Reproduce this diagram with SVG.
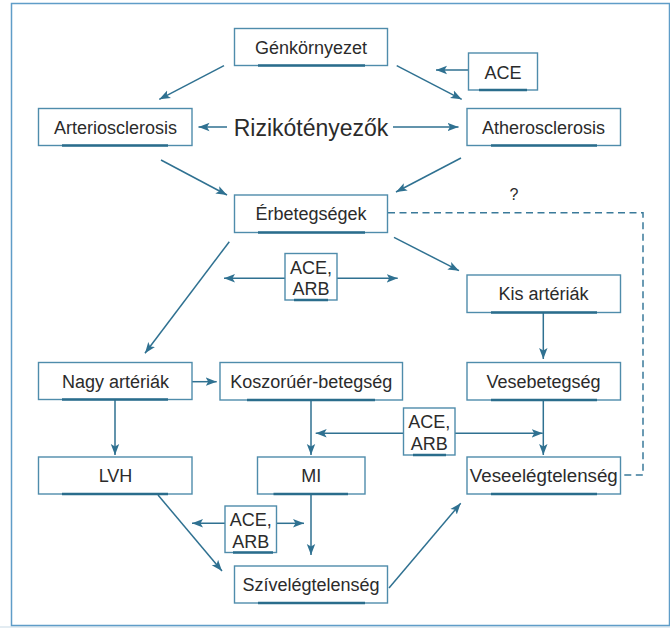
<svg xmlns="http://www.w3.org/2000/svg" width="670" height="628" viewBox="0 0 670 628">
<style>
.box{fill:#fff;stroke:#4f8cab;stroke-width:1.4}
.ul{stroke:#2a6d8c;stroke-width:2.6;fill:none}
.t{font-family:"Liberation Sans",Arial,sans-serif;font-size:18px;fill:#2b2b2b;text-anchor:middle}
.c{stroke:#2f7191;stroke-width:1.5;fill:none}
.a{marker-end:url(#ah)}
.d{stroke:#3a7a9a;stroke-width:1.5;fill:none;stroke-dasharray:7,4.5}
</style>
<defs>
<marker id="ah" markerUnits="userSpaceOnUse" markerWidth="12" markerHeight="10" viewBox="0 0 12 10" refX="11" refY="5" orient="auto">
<path d="M0,0.8 L11,5 L0,9.2 L2.5,5 Z" fill="#2f7191"/>
</marker>
</defs>
<rect x="0" y="0" width="670" height="628" fill="#ffffff"/>
<rect x="0" y="626" width="670" height="2" fill="#e3ecf2"/>
<rect x="11.5" y="3.5" width="658" height="622" fill="#fff" stroke="#5f9dc8" stroke-width="1.5"/>

<g id="connectors">
<path class="c a" d="M224,65.7 L159.3,99.3"/>
<path class="c a" d="M396.7,65.7 L461.7,99.3"/>
<path class="c a" d="M468.5,70 L436,70"/>
<path class="c a" d="M227,127 L198.5,127"/>
<path class="c a" d="M393,127 L458.5,127"/>
<path class="c a" d="M161,160 L227,195"/>
<path class="c a" d="M461,158 L396,192"/>
<path class="c a" d="M394,237.3 L459,270.7"/>
<path class="c a" d="M229.3,241.7 L145,353.3"/>
<path class="c a" d="M285,278.3 L224,278.3"/>
<path class="c a" d="M337,278.3 L397.7,278.3"/>
<path class="c a" d="M543.3,312.5 L543.3,359"/>
<path class="c a" d="M192,381.7 L216.7,381.7"/>
<path class="c a" d="M115,399.5 L115,455"/>
<path class="c a" d="M311,400 L311,455"/>
<path class="c a" d="M543.3,400 L543.3,455"/>
<path class="c a" d="M403.5,433.3 L315.7,433.3"/>
<path class="c a" d="M455,433.3 L542.7,433.3"/>
<path class="c a" d="M158,495 L222,571"/>
<path class="c a" d="M225,523.3 L192,523.3"/>
<path class="c a" d="M276.5,523.3 L304,523.3"/>
<path class="c a" d="M311,494 L311,555"/>
<path class="c a" d="M389,588 L460.7,503.3"/>
<path class="d" d="M388,212.7 L643,212.7 L643,475 L620.5,475"/>
</g>

<g id="rizikotenyezok"><text class="t" x="311" y="135.5" style="font-size:23px">Rizikótényezők</text></g>
<g id="question"><text class="t" x="514" y="200" style="font-size:16px">?</text></g>

<g id="genkornyezet"><rect class="box" x="234.5" y="28.5" width="153" height="37"/><line class="ul" x1="258" y1="65.5" x2="365" y2="65.5"/><text class="t" x="311" y="54">Génkörnyezet</text></g>
<g id="ace-top"><rect class="box" x="468.5" y="53" width="69" height="37"/><line class="ul" x1="479" y1="90" x2="527" y2="90"/><text class="t" x="503" y="78.5">ACE</text></g>
<g id="arteriosclerosis"><rect class="box" x="38.5" y="108.5" width="153.5" height="37"/><line class="ul" x1="62" y1="145.5" x2="168" y2="145.5"/><text class="t" x="115.5" y="133.5">Arteriosclerosis</text></g>
<g id="atherosclerosis"><rect class="box" x="467" y="108.5" width="153.5" height="37"/><line class="ul" x1="491" y1="145.5" x2="597" y2="145.5"/><text class="t" x="543.5" y="133.5">Atherosclerosis</text></g>
<g id="erbetegsegek"><rect class="box" x="234.5" y="195" width="153" height="37.5"/><line class="ul" x1="258" y1="232.5" x2="365" y2="232.5"/><text class="t" x="311" y="220">Érbetegségek</text></g>
<g id="ace-arb-1"><rect class="box" x="285" y="253.5" width="52" height="46.5"/><line class="ul" x1="294" y1="300" x2="328" y2="300"/><text class="t" x="311" y="273.5">ACE,</text><text class="t" x="311" y="295">ARB</text></g>
<g id="kis-arteriak"><rect class="box" x="467" y="275" width="153.5" height="37.5"/><line class="ul" x1="491" y1="312.5" x2="597" y2="312.5"/><text class="t" x="543.5" y="300">Kis artériák</text></g>
<g id="nagy-arteriak"><rect class="box" x="38.5" y="362.5" width="153.5" height="37"/><line class="ul" x1="62" y1="399.5" x2="168" y2="399.5"/><text class="t" x="115.5" y="387.5">Nagy artériák</text></g>
<g id="koszoruer"><rect class="box" x="220" y="362.5" width="182.5" height="37.5"/><line class="ul" x1="247" y1="400" x2="375" y2="400"/><text class="t" x="311.3" y="387.5">Koszorúér-betegség</text></g>
<g id="vesebetegseg"><rect class="box" x="467" y="362.5" width="153.5" height="37.5"/><line class="ul" x1="491" y1="400" x2="597" y2="400"/><text class="t" x="543.5" y="387.5">Vesebetegség</text></g>
<g id="ace-arb-2"><rect class="box" x="403.5" y="408" width="51.5" height="47"/><line class="ul" x1="413" y1="455" x2="446" y2="455"/><text class="t" x="429.3" y="428">ACE,</text><text class="t" x="429.3" y="449.5">ARB</text></g>
<g id="lvh"><rect class="box" x="38.5" y="457" width="153.5" height="37"/><line class="ul" x1="62" y1="494" x2="168" y2="494"/><text class="t" x="115.5" y="482">LVH</text></g>
<g id="mi"><rect class="box" x="257.5" y="457" width="107.5" height="37"/><line class="ul" x1="273.5" y1="494" x2="348" y2="494"/><text class="t" x="311.3" y="482">MI</text></g>
<g id="veseelegtelenseg"><rect class="box" x="467" y="457" width="153.5" height="37"/><line class="ul" x1="491" y1="494" x2="597" y2="494"/><text class="t" x="543.8" y="482" textLength="148" lengthAdjust="spacingAndGlyphs">Veseelégtelenség</text></g>
<g id="ace-arb-3"><rect class="box" x="225" y="506" width="51.5" height="46.5"/><line class="ul" x1="233" y1="552.5" x2="273" y2="552.5"/><text class="t" x="250.8" y="526">ACE,</text><text class="t" x="250.8" y="547.5">ARB</text></g>
<g id="szivelegtelenseg"><rect class="box" x="234.5" y="566" width="153" height="37"/><line class="ul" x1="258" y1="603" x2="365" y2="603"/><text class="t" x="311" y="591">Szívelégtelenség</text></g>
</svg>
